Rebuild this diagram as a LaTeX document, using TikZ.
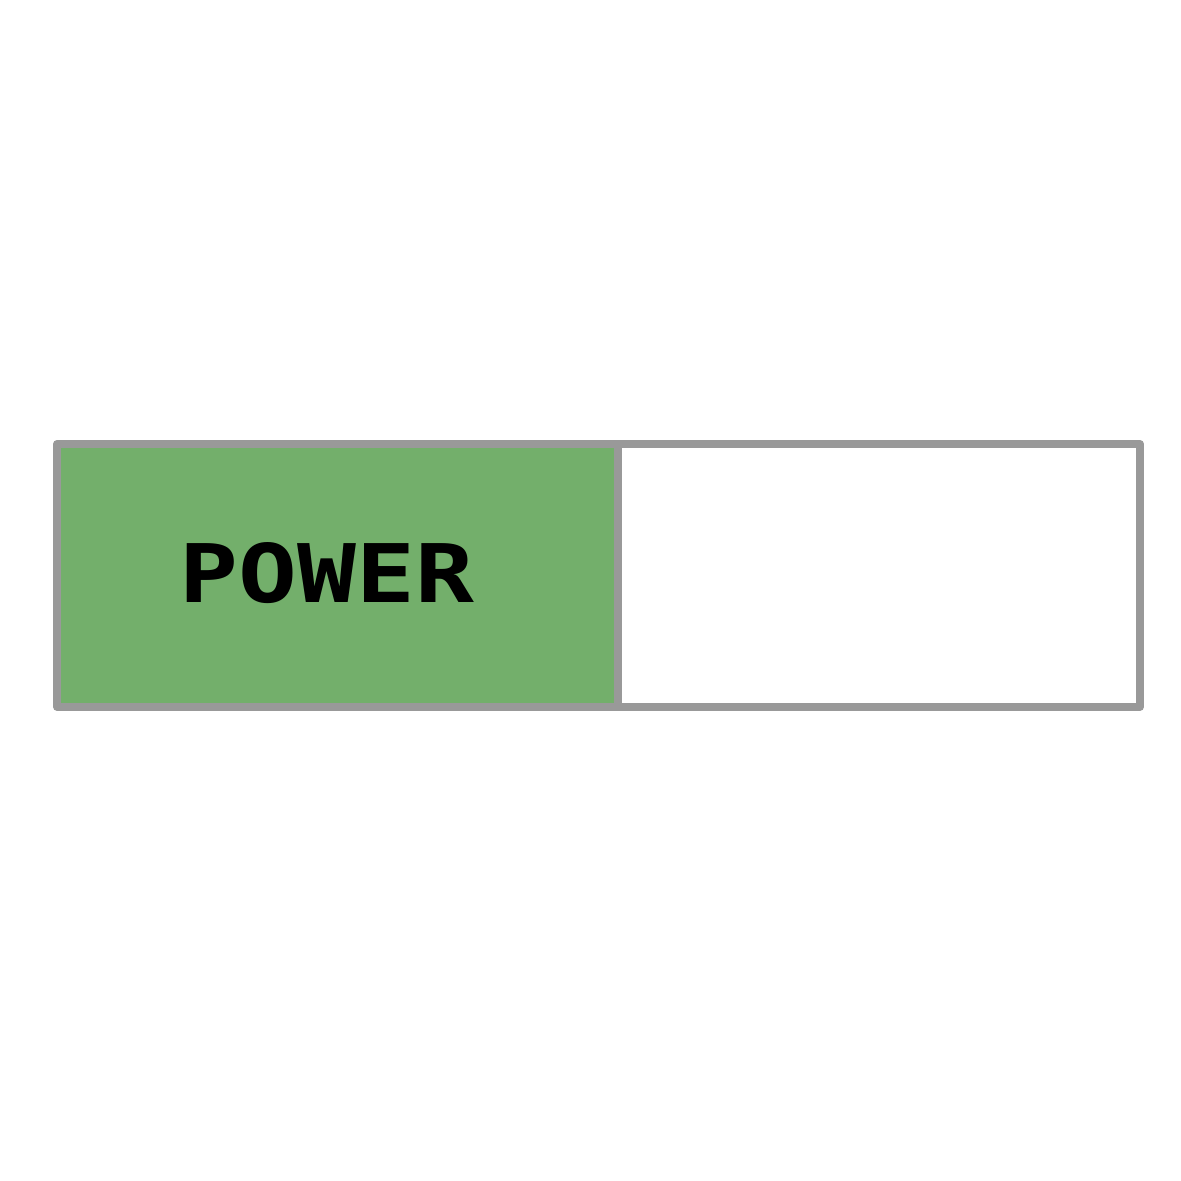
\documentclass[tikz,border=0pt]{standalone}
\usepackage{fontspec}
\usepackage{tikz}
\newfontfamily\pixelfont{DejaVu Sans Mono}
\definecolor{cell_gray}{RGB}{153,153,153}
\definecolor{power_green}{RGB}{115,175,107}

\begin{document}
\begin{tikzpicture}[semithick]
    \tikzstyle{cell}=[draw=cell_gray, line width=2.2pt, rectangle, minimum height=2.63cm, inner sep=0pt, line join=round]
    \useasboundingbox (0,0) rectangle (11.81,11.81);

    \node[cell, fill=power_green, minimum width=5.61cm] (on)  at (3.375,6.055) {};
    \node[cell, fill=white,       minimum width=5.22cm] (off) at (8.79,6.055)  {};
    \node[text=black, font=\pixelfont\bfseries\fontsize{23}{23}\selectfont, xscale=1.21] (label) at (3.27,6.075) {POWER};
  \end{tikzpicture}
\end{document}
